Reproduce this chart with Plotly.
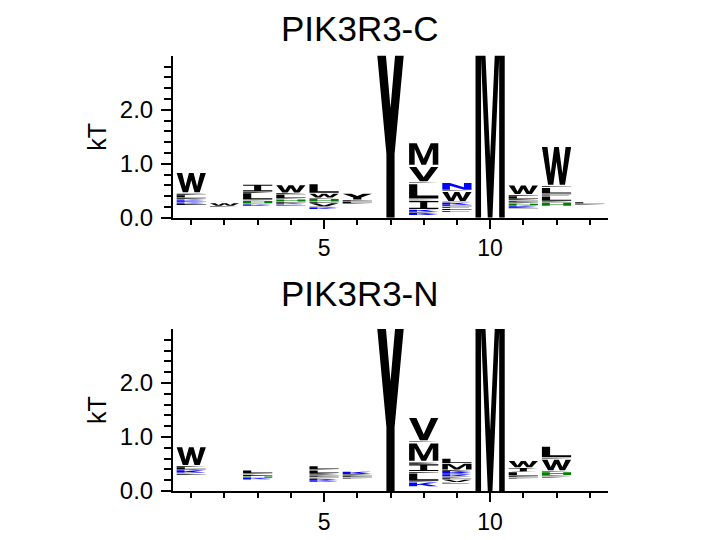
import plotly.graph_objects as go

positions = list(range(1, 14))

# ---- PIK3R3-C : stack base (kT) and letters bottom->top (letter, height kT, colour key)
c_base = [0.23, 0.20, 0.22, 0.22, 0.16, 0.25, 0.0, 0.05, 0.10, 0.0, 0.17, 0.22, 0.24]
c_stacks = [
    [("E", 0.03, "k"), ("K", 0.025, "b"), ("E", 0.03, "k"), ("K", 0.025, "b"), ("E", 0.03, "k"),
     ("L", 0.05, "k"), ("E", 0.03, "k"), ("W", 0.40, "k")],
    [("E", 0.02, "k"), ("W", 0.05, "k")],
    [("K", 0.025, "b"), ("E", 0.02, "k"), ("H", 0.05, "g"), ("E", 0.015, "k"), ("L", 0.13, "k"),
     ("E", 0.02, "k"), ("I", 0.14, "k")],
    [("E", 0.03, "k"), ("K", 0.02, "b"), ("E", 0.03, "k"), ("H", 0.04, "g"), ("E", 0.02, "k"),
     ("L", 0.07, "k"), ("E", 0.03, "k"), ("W", 0.15, "k")],
    [("K", 0.03, "b"), ("E", 0.02, "k"), ("V", 0.06, "k"), ("E", 0.03, "k"), ("H", 0.05, "g"),
     ("E", 0.02, "k"), ("W", 0.08, "k"), ("L", 0.18, "k")],
    [("E", 0.02, "k"), ("L", 0.03, "k"), ("E", 0.03, "k"), ("Y", 0.12, "k")],
    [("Y", 3.3, "k")],
    [("K", 0.04, "b"), ("E", 0.02, "k"), ("K", 0.04, "b"), ("I", 0.17, "k"), ("E", 0.02, "k"),
     ("L", 0.30, "k"), ("E", 0.02, "k"), ("V", 0.30, "k"), ("M", 0.44, "k")],
    [("E", 0.035, "k"), ("E", 0.035, "k"), ("E", 0.035, "k"), ("E", 0.035, "k"), ("K", 0.04, "b"),
     ("E", 0.02, "k"), ("W", 0.19, "k"), ("E", 0.02, "k"), ("N", 0.14, "b")],
    [("M", 4.0, "k")],
    [("E", 0.03, "k"), ("K", 0.03, "b"), ("H", 0.03, "g"), ("E", 0.03, "k"), ("E", 0.03, "k"),
     ("E", 0.03, "k"), ("L", 0.05, "k"), ("E", 0.03, "k"), ("W", 0.18, "k")],
    [("H", 0.06, "g"), ("E", 0.03, "k"), ("L", 0.09, "k"), ("E", 0.04, "k"), ("L", 0.12, "k"),
     ("E", 0.03, "k"), ("W", 0.74, "k")],
    [("E", 0.02, "k"), ("L", 0.03, "k")],
]

# ---- PIK3R3-N
n_base = [0.29, 0.0, 0.21, 0.0, 0.17, 0.22, 0.0, 0.08, 0.13, 0.0, 0.22, 0.24, 0.0]
n_stacks = [
    [("E", 0.03, "k"), ("E", 0.02, "k"), ("K", 0.04, "b"), ("K", 0.02, "b"), ("L", 0.04, "k"),
     ("E", 0.02, "k"), ("W", 0.37, "k")],
    [],
    [("K", 0.03, "b"), ("H", 0.03, "g"), ("E", 0.03, "k"), ("E", 0.03, "k"), ("L", 0.05, "k")],
    [],
    [("K", 0.03, "b"), ("K", 0.02, "b"), ("E", 0.03, "k"), ("E", 0.03, "k"), ("E", 0.03, "k"),
     ("E", 0.02, "k"), ("L", 0.05, "k"), ("E", 0.02, "k"), ("L", 0.06, "k")],
    [("E", 0.03, "k"), ("E", 0.03, "k"), ("E", 0.03, "k"), ("K", 0.05, "b")],
    [("Y", 3.3, "k")],
    [("K", 0.08, "b"), ("E", 0.02, "k"), ("L", 0.15, "k"), ("E", 0.03, "k"), ("I", 0.14, "k"),
     ("E", 0.02, "k"), ("E", 0.02, "k"), ("M", 0.36, "k"), ("E", 0.02, "k"), ("V", 0.45, "k")],
    [("E", 0.03, "k"), ("V", 0.05, "k"), ("E", 0.03, "k"), ("E", 0.03, "k"), ("K", 0.03, "b"),
     ("K", 0.03, "b"), ("K", 0.04, "b"), ("E", 0.02, "k"), ("M", 0.12, "k"), ("L", 0.09, "k")],
    [("M", 4.0, "k")],
    [("E", 0.03, "k"), ("E", 0.03, "k"), ("L", 0.07, "k"), ("I", 0.08, "k"), ("W", 0.13, "k")],
    [("E", 0.03, "k"), ("E", 0.02, "k"), ("H", 0.06, "g"), ("E", 0.02, "k"), ("W", 0.22, "k"),
     ("E", 0.02, "k"), ("L", 0.22, "k")],
    [],
]

panel_titles = ["PIK3R3-C", "PIK3R3-N"]
x_ticks = [5, 10]
y_ticks = [0, 1, 2]
y_tick_text = ["0.0", "1.0", "2.0"]
y_label = "kT"

# ---- style
COLORS = {"k": "#000000", "b": "#0000ff", "g": "#008000"}
LETTER_WIDTH = 0.88
FONT = "Liberation Sans, Arial, Helvetica, sans-serif"
W, H = 712, 532          # the page body keeps an 8px margin inside the 720x540 window
OFF_X, OFF_Y = 8, 8

# unit-box glyph outlines (bold sans), x and y in [0, 1]
GLYPHS = {
    "W": [(0, 1), (0.19, 1), (0.30, 0.30), (0.42, 1), (0.58, 1), (0.70, 0.30), (0.81, 1), (1, 1),
          (0.79, 0), (0.61, 0), (0.5, 0.62), (0.39, 0), (0.21, 0)],
    "M": [(0, 0), (0, 1), (0.26, 1), (0.5, 0.28), (0.74, 1), (1, 1), (1, 0), (0.81, 0), (0.81, 0.74),
          (0.58, 0), (0.42, 0), (0.19, 0.74), (0.19, 0)],
    "V": [(0, 1), (0.25, 1), (0.5, 0.27), (0.75, 1), (1, 1), (0.63, 0), (0.37, 0)],
    "L": [(0, 0), (0, 1), (0.28, 1), (0.28, 0.2), (1, 0.2), (1, 0)],
    "I": [(0, 1), (1, 1), (1, 0.84), (0.62, 0.84), (0.62, 0.16), (1, 0.16), (1, 0), (0, 0),
          (0, 0.16), (0.38, 0.16), (0.38, 0.84), (0, 0.84)],
    "Y": [(0, 1), (0.3, 1), (0.5, 0.62), (0.7, 1), (1, 1), (0.64, 0.36), (0.64, 0), (0.36, 0),
          (0.36, 0.36)],
    "N": [(0, 0), (0, 1), (0.26, 1), (0.74, 0.38), (0.74, 1), (1, 1), (1, 0), (0.74, 0),
          (0.26, 0.62), (0.26, 0)],
    "K": [(0, 0), (0, 1), (0.27, 1), (0.27, 0.56), (0.66, 1), (0.99, 1), (0.57, 0.58), (1, 0),
          (0.68, 0), (0.39, 0.42), (0.27, 0.3), (0.27, 0)],
    "H": [(0, 0), (0, 1), (0.27, 1), (0.27, 0.6), (0.73, 0.6), (0.73, 1), (1, 1), (1, 0),
          (0.73, 0), (0.73, 0.4), (0.27, 0.4), (0.27, 0)],
    "E": [(0, 0), (0, 1), (1, 1), (1, 0.82), (0.27, 0.82), (0.27, 0.59), (0.92, 0.59), (0.92, 0.41),
          (0.27, 0.41), (0.27, 0.18), (1, 0.18), (1, 0)],
}
PAD_FRAC = {"E": 0.25}   # vertical inset of each glyph inside its slot
DEFAULT_PAD_FRAC = 0.06
MAX_PAD = 0.02


def stack_traces(bases, stacks, xref, yref):
    paths = {k: ([], []) for k in COLORS}
    for pos, base, stack in zip(positions, bases, stacks):
        y0 = base
        for letter, h, col in stack:
            pad = min(PAD_FRAC.get(letter, DEFAULT_PAD_FRAC) * h, MAX_PAD)
            bottom_pad = 0.0 if y0 == 0 else pad
            gh = h - pad - bottom_pad
            xs, ys = paths[col]
            for gx, gy in GLYPHS[letter]:
                xs.append(pos - LETTER_WIDTH / 2 + gx * LETTER_WIDTH)
                ys.append(y0 + bottom_pad + gy * gh)
            xs.append(None)
            ys.append(None)
            y0 += h
    traces = []
    for col, (xs, ys) in paths.items():
        if not xs:
            continue
        traces.append(go.Scatter(
            x=xs, y=ys, mode="lines", fill="toself", fillcolor=COLORS[col],
            line=dict(width=0, color=COLORS[col]), hoverinfo="skip", showlegend=False,
            xaxis=xref, yaxis=yref))
    return traces


fig = go.Figure()
for t in stack_traces(c_base, c_stacks, "x", "y"):
    fig.add_trace(t)
for t in stack_traces(n_base, n_stacks, "x2", "y2"):
    fig.add_trace(t)


def px_x(p):
    return (p - OFF_X) / W


def px_y(p):
    return 1 - (p - OFF_Y) / H


xdom = [px_x(173), px_x(608)]
ydoms = [[px_y(223), px_y(57)], [px_y(503), px_y(337)]]

minor_y = [round(0.2 * i, 1) for i in range(1, 16) if i % 5 != 0]


def xaxis_cfg(anchor):
    return dict(domain=xdom, anchor=anchor, range=[0.45, 13.55], showline=True, linecolor="black",
                linewidth=2, ticks="outside", tickmode="array", tickvals=x_ticks, ticklen=9,
                tickwidth=1.5, tickcolor="black", showgrid=False, zeroline=False,
                tickfont=dict(family=FONT, size=23, color="black"),
                minor=dict(tickmode="array", tickvals=positions, ticks="outside", ticklen=5,
                           tickwidth=1.5, tickcolor="black", showgrid=False))


def yaxis_cfg(anchor, dom):
    return dict(domain=dom, anchor=anchor, range=[0, 3.0], showline=True, linecolor="black",
                linewidth=2, ticks="outside", tickmode="array", tickvals=y_ticks,
                ticktext=y_tick_text, ticklen=10, tickwidth=1.5, tickcolor="black",
                showgrid=False, zeroline=False, ticklabelstandoff=3,
                tickfont=dict(family=FONT, size=24, color="black"),
                minor=dict(tickmode="array", tickvals=minor_y, ticks="outside", ticklen=7,
                           tickwidth=1.5, tickcolor="black", showgrid=False))


annotations = []
for title, (ya, yb), ty in zip(panel_titles, ydoms, [29, 301]):
    annotations.append(dict(text=title, x=px_x(360), y=px_y(ty), xref="paper", yref="paper",
                            showarrow=False, font=dict(family=FONT, size=35, color="black"),
                            xanchor="center", yanchor="middle"))
    annotations.append(dict(text=y_label, x=px_x(97), y=(ya + yb) / 2, xref="paper", yref="paper",
                            showarrow=False, textangle=-90,
                            font=dict(family=FONT, size=25, color="black"),
                            xanchor="center", yanchor="middle"))

fig.update_layout(
    width=W, height=H,
    margin=dict(l=0, r=0, t=0, b=0),
    paper_bgcolor="white", plot_bgcolor="white",
    xaxis=xaxis_cfg("y"), yaxis=yaxis_cfg("x", ydoms[0]),
    xaxis2=xaxis_cfg("y2"), yaxis2=yaxis_cfg("x2", ydoms[1]),
    annotations=annotations,
)

fig.write_html("out.html")
